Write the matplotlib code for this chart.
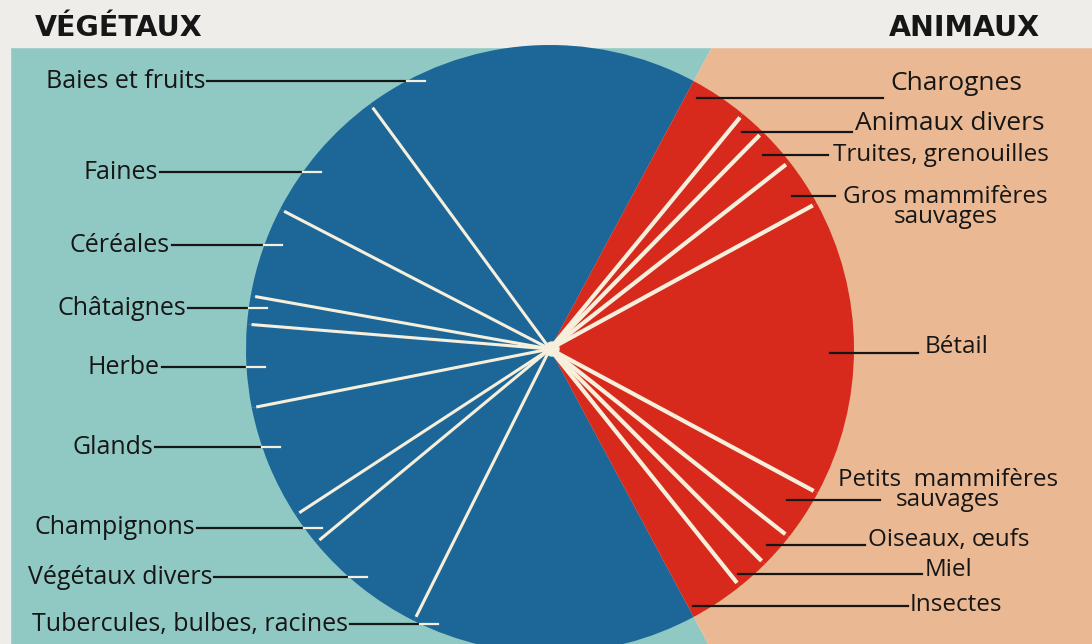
import numpy as np
import matplotlib.pyplot as plt

# share of each food in the diet (percent), plant side then animal side
veg_labels = ['Baies et fruits', 'Faines', 'Céréales', 'Châtaignes', 'Herbe',
              'Glands', 'Champignons', 'Végétaux divers', 'Tubercules, bulbes, racines']
veg_values = [17.9, 7.3, 4.8, 1.5, 4.4, 6.1, 1.8, 6.6, 15.2]

ani_labels = ['Charognes', 'Animaux divers', 'Truites, grenouilles',
              'Gros mammifères\nsauvages', 'Bétail', 'Petits  mammifères\nsauvages',
              'Oiseaux, œufs', 'Miel', 'Insectes']
ani_values = [3.1, 1.4, 2.1, 2.6, 15.8, 2.75, 1.9, 1.75, 2.9]

# label placement in pixels (y measured from the top)
veg_pos = [(205, 81), (158, 172), (170, 245), (186, 308), (160, 367),
           (153, 447), (195, 528), (212, 577), (348, 624)]
# (line start x, line end x, line y, text x, text y)
ani_pos = [(697, 883, 98, 890, 83), (742, 852, 132, 855, 123),
           (763, 828, 155, 833, 155), (792, 835, 196, 843, 207),
           (830, 918, 353, 925, 347), (787, 880, 500, 838, 490),
           (767, 865, 545, 868, 540), (738, 922, 574, 925, 570),
           (693, 908, 606, 910, 605)]
ani_size = [19, 19, 17.5, 17.5, 17.5, 17.5, 17.5, 17.5, 17.5]

W, H = 1092, 644
cx, cy, R = 550, 349, 304

BLUE = '#1d6798'
RED = '#d82a1c'
LIGHT = '#90c9c3'
PEACH = '#eab993'
PAPER = '#eeedea'
CREAM = '#f6efdc'
INK = '#161616'

plt.rcParams['font.family'] = ['Open Sans', 'DejaVu Sans']

fig = plt.figure(figsize=(W / 100, H / 100), dpi=100)
fig.patch.set_facecolor(PAPER)
ax = fig.add_axes([0, 0, 1, 1])


def fy(y):
    return H - y


total = sum(veg_values) + sum(ani_values)
start = 180 * sum(ani_values) / total
values = veg_values + ani_values[::-1]
colors = [BLUE] * len(veg_values) + [RED] * len(ani_values)

# background split along the same two radii
ax.pie([sum(veg_values), sum(ani_values)], colors=[LIGHT, PEACH], startangle=start,
       radius=1500, center=(cx, fy(cy)), frame=True,
       wedgeprops=dict(linewidth=0, zorder=0))
ax.axhspan(fy(47), H, color=PAPER, zorder=1)
ax.axvspan(0, 10, color=PAPER, zorder=1)

ax.pie(values, colors=colors, startangle=start, radius=R, center=(cx, fy(cy)),
       frame=True, wedgeprops=dict(linewidth=0, zorder=2))

# white separators inside each group
bounds = start + 360 * np.cumsum(values) / total
nv = len(veg_values)
sep = list(range(nv - 1)) + list(range(nv, len(values) - 1))
for i in sep:
    a = np.radians(bounds[i])
    lw = 2.2 if i < nv else 3.0
    ax.plot([cx, cx + 0.985 * R * np.cos(a)], [fy(cy), fy(cy) + 0.985 * R * np.sin(a)],
            color=CREAM, lw=lw, solid_capstyle='butt', zorder=3)
ax.add_patch(plt.Circle((cx + 2, fy(cy)), 7, color=CREAM, zorder=3))

# plant labels, leader ends with a short white dash inside the pie
for lab, (tx, ty) in zip(veg_labels, veg_pos):
    ex = cx - np.sqrt(R ** 2 - (cy - ty) ** 2)
    ax.text(tx, fy(ty), lab, ha='right', va='center', fontsize=18, color=INK, zorder=6)
    ax.plot([tx + 2, ex], [fy(ty), fy(ty)], color=INK, lw=1.6, zorder=4)
    ax.plot([ex, ex + 18], [fy(ty), fy(ty)], color=CREAM, lw=1.6, zorder=4)

for lab, (x0, x1, ly, tx, ty), fs in zip(ani_labels, ani_pos, ani_size):
    ax.plot([x0, x1], [fy(ly), fy(ly)], color=INK, lw=1.6, zorder=4)
    ax.text(tx, fy(ty), lab, ha='left', va='center', fontsize=fs, color=INK,
            multialignment='center', linespacing=0.8, zorder=6)

ax.text(35, fy(28), 'VÉGÉTAUX', ha='left', va='center', fontsize=20.5,
        fontweight='bold', family='DejaVu Sans', color=INK, zorder=6)
ax.text(1040, fy(28), 'ANIMAUX', ha='right', va='center', fontsize=20.5,
        fontweight='bold', family='DejaVu Sans', color=INK, zorder=6)

ax.set_xlim(0, W)
ax.set_ylim(0, H)
ax.axis('off')

fig.savefig('out.png', dpi=100, facecolor=PAPER)
